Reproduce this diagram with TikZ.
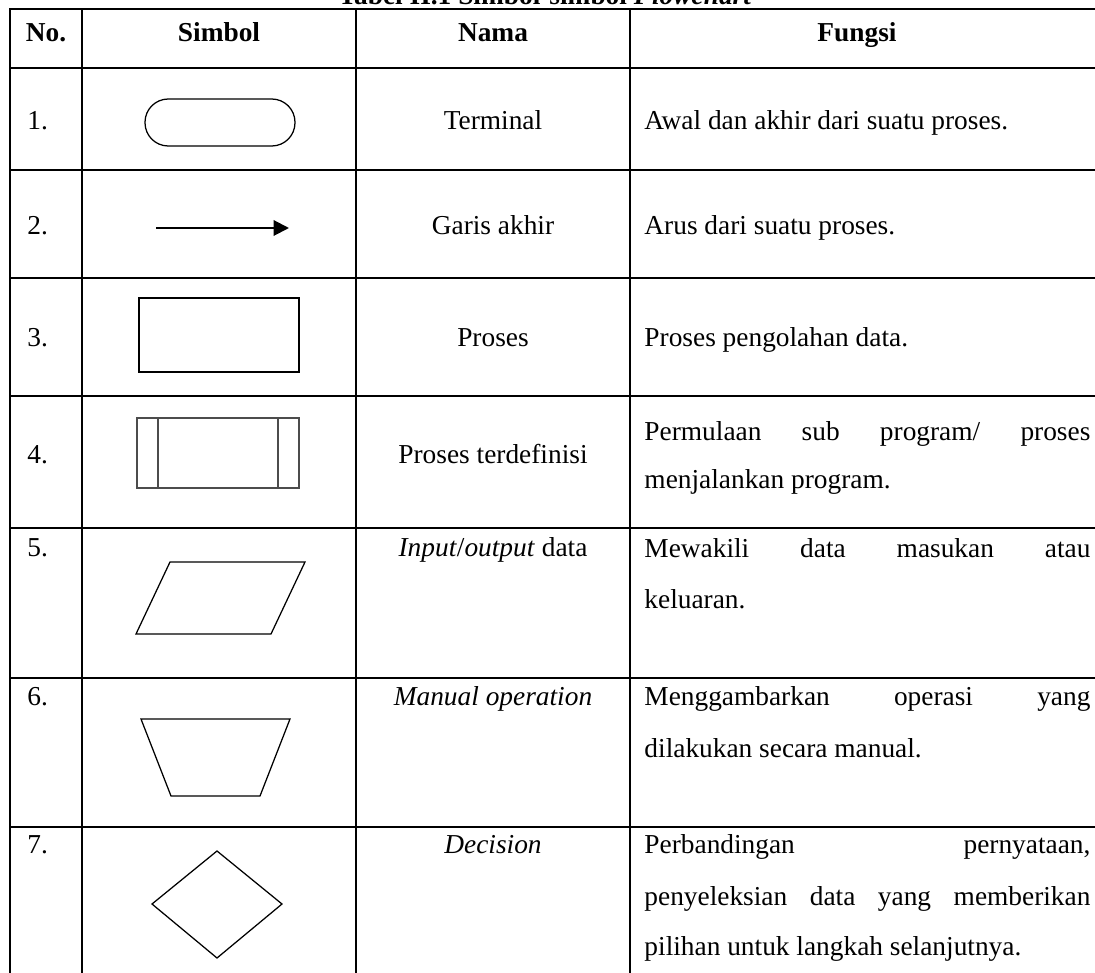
\documentclass[tikz,border=0pt]{standalone}
\usepackage{fontspec}
\setmainfont{Liberation Serif}
\usetikzlibrary{arrows.meta}
\begin{document}
\begin{tikzpicture}[x=0.4386pt,y=-0.4386pt,
  font=\fontsize{12}{14}\selectfont,
  rule/.style={line width=0.9pt,line cap=rect},
  sym/.style={line width=0.55pt,line join=miter},
  symthick/.style={line width=0.75pt},
  txthead/.style={inner sep=0pt,anchor=base,font=\fontsize{12}{14}\selectfont\bfseries},
  txtnum/.style={inner sep=0pt,anchor=base west},
  txtname/.style={inner sep=0pt,anchor=base},
  txtfunc/.style={inner sep=0pt,anchor=base west}]
\useasboundingbox (0,0) rectangle (1095,973);

% caption, cut by the upper edge of the page
\begin{scope}
  \clip (0,0) rectangle (1095,973);
  \node[txthead] (caption) at (545,5) {Tabel II.1 Simbol-simbol \textit{Flowchart}};
\end{scope}

% table rules
\foreach \y in {9,68,170,278,396,528,678,827}
  \draw[rule] (10,\y) -- (1095,\y);
\foreach \x in {10,82,356,630}
  \draw[rule] (\x,9) -- (\x,973);

% header
\node[txthead] (hno) at (46,42) {No.};
\node[txthead] (hsym) at (219,42) {Simbol};
\node[txthead] (hname) at (493,42) {Nama};
\node[txthead] (hfunc) at (857,42) {Fungsi};

% numbers
\node[txtnum] (n1) at (27,130) {1.};
\node[txtnum] (n2) at (27,235) {2.};
\node[txtnum] (n3) at (27,346) {3.};
\node[txtnum] (n4) at (27,463) {4.};
\node[txtnum] (n5) at (27,556) {5.};
\node[txtnum] (n6) at (27,705) {6.};
\node[txtnum] (n7) at (27,853) {7.};

% names
\node[txtname] (m1) at (493,130) {Terminal};
\node[txtname] (m2) at (493,235) {Garis akhir};
\node[txtname] (m3) at (493,346) {Proses};
\node[txtname] (m4) at (493,463) {Proses terdefinisi};
\node[txtname] (m5) at (493,556) {\textit{Input}/\textit{output} data};
\node[txtname] (m6) at (493,705) {\textit{Manual operation}};
\node[txtname] (m7) at (493,853) {\textit{Decision}};

% functions
\newcommand{\fullline}[1]{\makebox[195.6pt][s]{#1}}
\node[txtfunc] (f1) at (644,130) {Awal dan akhir dari suatu proses.};
\node[txtfunc] (f2) at (644,235) {Arus dari suatu proses.};
\node[txtfunc] (f3) at (644,346) {Proses pengolahan data.};
\node[txtfunc] (f4a) at (644,440) {\fullline{Permulaan sub program/ proses}};
\node[txtfunc] (f4b) at (644,488) {menjalankan program.};
\node[txtfunc] (f5a) at (644,557) {\fullline{Mewakili data masukan atau}};
\node[txtfunc] (f5b) at (644,608) {keluaran.};
\node[txtfunc] (f6a) at (644,705) {\fullline{Menggambarkan operasi yang}};
\node[txtfunc] (f6b) at (644,757) {dilakukan secara manual.};
\node[txtfunc] (f7a) at (644,853) {\fullline{Perbandingan pernyataan,}};
\node[txtfunc] (f7b) at (644,905) {\fullline{penyeleksian data yang memberikan}};
\node[txtfunc] (f7c) at (644,955) {pilihan untuk langkah selanjutnya.};

% symbol 1: terminal
\draw[sym,rounded corners=10.2pt] (145,99) rectangle (295,146);

% symbol 2: flow line
\coordinate (fl0) at (156,228);
\coordinate (fl1) at (289,228);
\draw[line width=0.9pt,-{Triangle[length=6.8pt,width=6.8pt]}] (fl0) -- (fl1);

% symbol 3: process
\draw[symthick] (139,298) rectangle (299,372);

% symbol 4: predefined process
\begin{scope}[draw=black!70,line width=0.5pt]
  \draw (137,418) rectangle (299,488);
  \draw (158,418) -- (158,488);
  \draw (278,418) -- (278,488);
\end{scope}

% symbol 5: input/output
\draw[sym] (170,562) -- (305,562) -- (271,634) -- (136,634) -- cycle;

% symbol 6: manual operation
\draw[sym] (141,719) -- (290,719) -- (260,796) -- (171,796) -- cycle;

% symbol 7: decision
\draw[sym] (217,851) -- (282,904) -- (217,958) -- (152,904) -- cycle;
\end{tikzpicture}
\end{document}
